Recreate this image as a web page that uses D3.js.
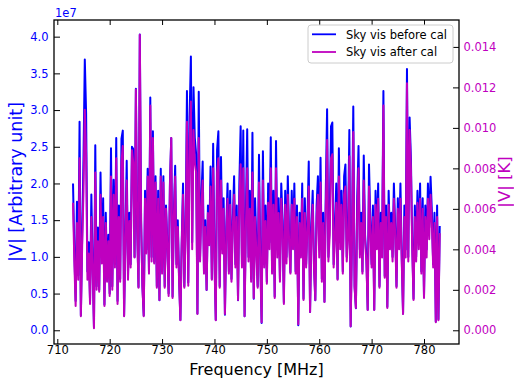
<!DOCTYPE html>
<html>
<head>
<meta charset="utf-8">
<script src="https://cdn.jsdelivr.net/npm/d3@7"></script>
<style>
  body { margin: 0; background: #fff; }
  svg { display: block; }
  text { font-family: "DejaVu Sans", sans-serif; }
</style>
</head>
<body>
<svg id="chart" width="514" height="385"></svg>
<script>
// Channel grid of the spectrum (MHz)
const freqStart = 713;
const freqStep = 0.25;

// Sky visibility amplitude before calibration, in units of 1e7 (arbitrary)
const skyBefore = [
  2.00, 1.10, 0.40, 1.75,  0.75, 2.84, 0.20, 1.30,  2.35, 3.69, 2.96, 0.80,  1.20, 0.40, 1.85, 0.90,
  0.05, 2.52, 0.60, 1.40,  0.55, 2.15, 1.00, 1.80,  0.35, 1.60, 0.70, 1.30,  0.50, 2.48, 0.60, 2.05,
  0.90, 2.62, 0.40, 1.70,  0.70, 2.61, 2.72, 0.20,  1.30, 2.31, 0.75, 1.60,  0.90, 2.50, 2.47, 1.00,
  3.29, 1.40, 0.59, 4.03,  1.50, 0.60, 0.20, 1.90,  1.10, 2.20, 0.80, 3.17,  1.00, 2.71, 0.93, 2.10,
  0.60, 1.90, 0.41, 2.20,  0.80, 2.10, 0.60, 1.70,  1.20, 0.50, 2.00, 2.62,  0.46, 1.60, 2.24, 0.90,
  1.50, 0.70, 0.14, 1.20,  2.00, 0.60, 1.40, 3.26,  0.65, 2.91, 3.73, 1.20,  3.31, 2.62, 2.40, 0.23,
  3.25, 1.00, 1.80, 2.30,  0.80, 1.50, 0.55, 1.70,  1.20, 2.23, 0.70, 2.54,  1.00, 0.14, 2.46, 2.71,
  0.60, 2.36, 1.10, 1.80,  0.21, 1.40, 2.00, 0.80,  1.90, 0.70, 1.50, 2.10,  0.90, 1.70, 0.41, 2.00,
  2.78, 0.90, 2.72, 0.19,  1.60, 2.74, 1.00, 1.90,  0.70, 2.69, 0.43, 1.80,  1.20, 0.60, 2.39, 1.00,
  0.10, 2.44, 0.90, 1.70,  0.66, 2.00, 1.20, 2.63,  0.80, 1.90, 0.46, 2.58,  1.10, 1.80, 0.70, 2.00,
  1.50, 0.38, 1.90, 1.00,  2.10, 1.30, 0.79, 1.90,  1.20, 2.00, 0.80, 1.70,  0.07, 1.60, 1.10, 2.00,
  0.43, 1.80, 0.90, 1.50,  2.30, 0.25, 1.40, 1.90,  0.90, 0.41, 1.70, 2.10,  1.10, 2.35, 0.70, 1.60,
  0.39, 1.90, 3.01, 1.00,  1.50, 2.78, 2.83, 0.90,  1.40, 2.00, 0.70, 2.48,  1.20, 1.90, 0.80, 2.10,
  2.26, 1.00, 1.40, 2.73,  0.05, 1.30, 3.05, 0.60,  0.30, 1.80, 2.51, 1.10,  1.60, 0.80, 2.38, 1.30,
  1.00, 0.28, 2.26, 1.50,  0.90, 1.70, 0.28, 1.90,  1.20, 2.00, 0.60, 1.60,  1.10, 3.26, 0.74, 1.70,
  0.32, 1.90, 1.20, 1.60,  1.00, 2.00, 1.40, 0.60,  1.80, 1.20, 2.00, 1.00,  0.23, 1.70, 1.10, 3.56,
  1.00, 2.90, 2.34, 1.20,  0.43, 1.70, 1.00, 1.90,  1.20, 2.00, 0.80, 1.80,  0.46, 1.70, 1.10, 2.00,
  1.40, 2.09, 1.62, 0.90,  1.60, 0.12, 1.70, 0.15,  1.42
];

// Sky visibility amplitude after calibration, in K
const skyAfter = [
  0.0063, 0.0034, 0.0012, 0.0053,  0.0025, 0.0085, 0.0007, 0.0042,  0.0069, 0.0109, 0.0087, 0.0025,  0.0038, 0.0013, 0.0056, 0.0029,
  0.0001, 0.0078, 0.0020, 0.0044,  0.0019, 0.0067, 0.0033, 0.0056,  0.0012, 0.0053, 0.0024, 0.0044,  0.0017, 0.0076, 0.0020, 0.0067,
  0.0031, 0.0085, 0.0013, 0.0056,  0.0024, 0.0083, 0.0091, 0.0007,  0.0044, 0.0074, 0.0025, 0.0054,  0.0031, 0.0089, 0.0083, 0.0036,
  0.0119, 0.0049, 0.0021, 0.0146,  0.0053, 0.0021, 0.0007, 0.0065,  0.0038, 0.0076, 0.0028, 0.0111,  0.0034, 0.0095, 0.0033, 0.0073,
  0.0021, 0.0065, 0.0015, 0.0076,  0.0028, 0.0073, 0.0021, 0.0060,  0.0042, 0.0017, 0.0071, 0.0095,  0.0016, 0.0056, 0.0076, 0.0031,
  0.0051, 0.0024, 0.0005, 0.0042,  0.0067, 0.0021, 0.0047, 0.0103,  0.0022, 0.0092, 0.0113, 0.0040,  0.0099, 0.0083, 0.0078, 0.0008,
  0.0095, 0.0034, 0.0060, 0.0074,  0.0028, 0.0051, 0.0020, 0.0058,  0.0042, 0.0071, 0.0025, 0.0080,  0.0034, 0.0005, 0.0078, 0.0085,
  0.0021, 0.0074, 0.0038, 0.0060,  0.0008, 0.0047, 0.0065, 0.0028,  0.0062, 0.0024, 0.0051, 0.0067,  0.0031, 0.0056, 0.0015, 0.0063,
  0.0082, 0.0031, 0.0080, 0.0007,  0.0051, 0.0080, 0.0034, 0.0060,  0.0024, 0.0078, 0.0016, 0.0056,  0.0038, 0.0021, 0.0073, 0.0033,
  0.0004, 0.0074, 0.0031, 0.0054,  0.0023, 0.0063, 0.0040, 0.0080,  0.0028, 0.0062, 0.0016, 0.0080,  0.0036, 0.0058, 0.0024, 0.0065,
  0.0049, 0.0013, 0.0062, 0.0033,  0.0067, 0.0044, 0.0028, 0.0062,  0.0040, 0.0065, 0.0028, 0.0056,  0.0003, 0.0053, 0.0036, 0.0065,
  0.0015, 0.0058, 0.0031, 0.0051,  0.0071, 0.0009, 0.0047, 0.0062,  0.0031, 0.0015, 0.0056, 0.0067,  0.0036, 0.0073, 0.0024, 0.0053,
  0.0014, 0.0060, 0.0094, 0.0034,  0.0047, 0.0085, 0.0087, 0.0031,  0.0045, 0.0063, 0.0025, 0.0076,  0.0040, 0.0062, 0.0028, 0.0067,
  0.0071, 0.0034, 0.0045, 0.0086,  0.0002, 0.0044, 0.0098, 0.0021,  0.0011, 0.0058, 0.0080, 0.0036,  0.0053, 0.0028, 0.0074, 0.0044,
  0.0034, 0.0010, 0.0071, 0.0049,  0.0031, 0.0056, 0.0010, 0.0062,  0.0040, 0.0065, 0.0021, 0.0053,  0.0036, 0.0111, 0.0026, 0.0056,
  0.0011, 0.0062, 0.0040, 0.0053,  0.0034, 0.0065, 0.0047, 0.0021,  0.0060, 0.0040, 0.0065, 0.0034,  0.0008, 0.0056, 0.0036, 0.0122,
  0.0034, 0.0099, 0.0080, 0.0040,  0.0015, 0.0056, 0.0034, 0.0063,  0.0040, 0.0065, 0.0028, 0.0060,  0.0016, 0.0056, 0.0036, 0.0065,
  0.0045, 0.0067, 0.0053, 0.0031,  0.0053, 0.0004, 0.0056, 0.0005,  0.0048
];

const freqTicks = [710, 720, 730, 740, 750, 760, 770, 780];
const leftTicks = [0.0, 0.5, 1.0, 1.5, 2.0, 2.5, 3.0, 3.5, 4.0];
const rightTicks = [0.000, 0.002, 0.004, 0.006, 0.008, 0.010, 0.012, 0.014];

const seriesNames = ["Sky vis before cal", "Sky vis after cal"];
const blue = "#0000ff";
const magenta = "#bf00bf";

const freqs = skyBefore.map((_, i) => freqStart + i * freqStep);

const svg = d3.select("#chart");
const plot = { left: 54, right: 459, top: 20, bottom: 344 };

const x = d3.scaleLinear().domain([709.37, 786.68]).range([plot.left, plot.right]);
const yL = d3.scaleLinear().domain([-0.187, 4.227]).range([plot.bottom, plot.top]);
const yR = d3.scaleLinear().domain([-0.000677, 0.01533]).range([plot.bottom, plot.top]);

svg.append("defs").append("clipPath").attr("id", "plot-clip")
  .append("rect")
  .attr("x", plot.left).attr("y", plot.top)
  .attr("width", plot.right - plot.left).attr("height", plot.bottom - plot.top);

const lines = svg.append("g").attr("clip-path", "url(#plot-clip)");

const lineBefore = d3.line().x((d, i) => x(freqs[i])).y(d => yL(d));
const lineAfter = d3.line().x((d, i) => x(freqs[i])).y(d => yR(d));

lines.append("path").datum(skyBefore)
  .attr("d", lineBefore)
  .attr("fill", "none").attr("stroke", blue)
  .attr("stroke-width", 2).attr("stroke-linejoin", "round");

lines.append("path").datum(skyAfter)
  .attr("d", lineAfter)
  .attr("fill", "none").attr("stroke", magenta)
  .attr("stroke-width", 2).attr("stroke-linejoin", "round");

// Axes with inward ticks
function styleAxis(g, color) {
  g.select(".domain").remove();
  g.selectAll(".tick line").attr("stroke", "#000").attr("stroke-width", 1);
  g.selectAll(".tick text")
    .attr("fill", color)
    .style("font-family", "'DejaVu Sans', sans-serif")
    .style("font-size", "11.5px");
}

svg.append("g")
  .attr("transform", `translate(0,${plot.bottom})`)
  .call(d3.axisBottom(x).tickValues(freqTicks).tickFormat(d3.format("d"))
    .tickSizeInner(-5).tickSizeOuter(0).tickPadding(2.3))
  .call(g => styleAxis(g, "#000"));

svg.append("g")
  .attr("transform", `translate(0,${plot.top})`)
  .call(d3.axisTop(x).tickValues(freqTicks).tickFormat("")
    .tickSizeInner(-5).tickSizeOuter(0))
  .call(g => styleAxis(g, "#000"));

svg.append("g")
  .attr("transform", `translate(${plot.left},0)`)
  .call(d3.axisLeft(yL).tickValues(leftTicks).tickFormat(d3.format(".1f"))
    .tickSizeInner(-6).tickSizeOuter(0).tickPadding(5.5))
  .call(g => styleAxis(g, blue));

svg.append("g")
  .attr("transform", `translate(${plot.right},0)`)
  .call(d3.axisRight(yR).tickValues(rightTicks).tickFormat(d3.format(".3f"))
    .tickSizeInner(-6).tickSizeOuter(0).tickPadding(4.5))
  .call(g => styleAxis(g, magenta));

// Frame
svg.append("rect")
  .attr("x", plot.left).attr("y", plot.top)
  .attr("width", plot.right - plot.left).attr("height", plot.bottom - plot.top)
  .attr("fill", "none").attr("stroke", "#000").attr("stroke-width", 1.3);

// Offset label of the left axis
svg.append("text")
  .attr("x", 55).attr("y", 16.5)
  .attr("fill", blue).style("font-size", "11.5px")
  .text("1e7");

// Axis titles
svg.append("text")
  .attr("x", (plot.left + plot.right) / 2).attr("y", 375)
  .attr("text-anchor", "middle").attr("fill", "#000")
  .style("font-size", "16px")
  .text("Frequency [MHz]");

svg.append("text")
  .attr("transform", `translate(22,${(plot.top + plot.bottom) / 2}) rotate(-90)`)
  .attr("text-anchor", "middle").attr("fill", blue)
  .style("font-size", "17.5px")
  .text("|V| [Arbitrary unit]");

svg.append("text")
  .attr("transform", `translate(510,${(plot.top + plot.bottom) / 2}) rotate(-90)`)
  .attr("text-anchor", "middle").attr("fill", magenta)
  .style("font-size", "16.5px")
  .text("|V| [K]");

// Legend
const legend = svg.append("g");
legend.append("rect")
  .attr("x", 308).attr("y", 25).attr("width", 145).attr("height", 38).attr("rx", 3)
  .attr("fill", "#fff").attr("fill-opacity", 0.8)
  .attr("stroke", "#cccccc").attr("stroke-width", 1);

[blue, magenta].forEach((c, i) => {
  const yy = 34.3 + i * 17.7;
  legend.append("line")
    .attr("x1", 312).attr("x2", 336).attr("y1", yy).attr("y2", yy)
    .attr("stroke", c).attr("stroke-width", 1.8);
  legend.append("text")
    .attr("x", 346).attr("y", yy + 4.2)
    .attr("fill", "#000").style("font-size", "11.5px")
    .text(seriesNames[i]);
});
</script>
</body>
</html>
